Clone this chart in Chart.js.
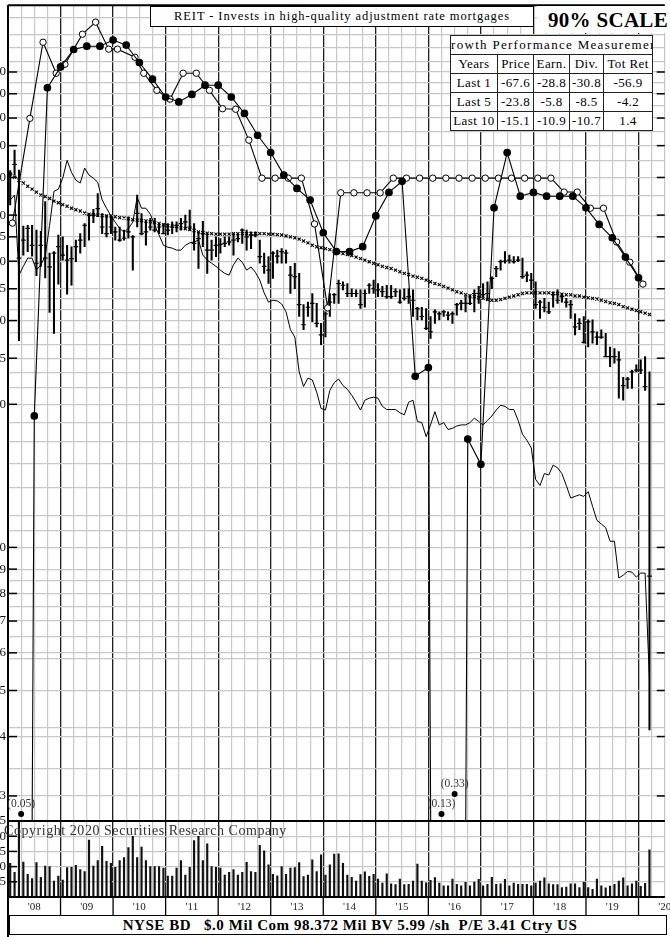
<!DOCTYPE html>
<html>
<head>
<meta charset="utf-8">
<title>REIT price chart</title>
<script src="https://cdn.jsdelivr.net/npm/chart.js@4.4.1/dist/chart.umd.min.js"></script>
<style>
  html, body { margin: 0; padding: 0; background: #fff; }
  body { position: relative; width: 670px; height: 937px; overflow: hidden;
         font-family: "Liberation Serif", "DejaVu Serif", serif; color: #000; }
  #plot { position: absolute; left: -30px; top: 0; width: 700px; height: 937px; }
  #title { position: absolute; left: 150px; top: 6px; width: 382px; height: 19px;
           border: 1.5px solid #000; background: #fff; text-align: center;
           font-size: 12.5px; line-height: 19px; letter-spacing: 0.9px; white-space: nowrap; }
  #scale { position: absolute; left: 537px; top: 6px; width: 133px; height: 27px; background: #fff;
           font-size: 21px; font-weight: bold; line-height: 28px; text-indent: 11px;
           white-space: nowrap; letter-spacing: 0.3px; }
  #perf { position: absolute; left: 450px; top: 35px; width: 202px; border-collapse: collapse;
          table-layout: fixed; background: #fff; font-size: 13px; letter-spacing: 0.4px; }
  #perf td { border: 1.5px solid #222; height: 18px; padding: 0; text-align: center;
             white-space: nowrap; overflow: hidden; line-height: 16px; }
  #perf .head { display: flex; justify-content: center; overflow: hidden; letter-spacing: 1.3px; }
  #copy { position: absolute; left: 4px; top: 823px; font-size: 14px; letter-spacing: 0.55px;
          color: #333; white-space: nowrap; }
  #footer { position: absolute; left: 9px; top: 915px; width: 632px; height: 18px; padding-left: 24px;
            border: 1.5px solid #000; background: #fff; font-weight: bold; font-size: 15px;
            text-align: center; line-height: 18px; white-space: pre; letter-spacing: 0.55px; }
</style>
</head>
<body>
<div id="plot"><canvas id="srcChart"></canvas></div>
<div id="title">REIT - Invests in high-quality adjustment rate mortgages</div>
<div id="scale">90% SCALE</div>
<table id="perf"></table>
<div id="copy">Copyright 2020 Securities Research Company</div>
<div id="footer"></div>

<script>
// ---- data (x = months since Jan 2008) ----
const yearLabels = ["'08", "'09", "'10", "'11", "'12", "'13", "'14", "'15", "'16", "'17", "'18", "'19", "'20"];

const priceLabels = [3, 4, 5, 6, 7, 8, 9, 10, 20, 25, 30, 35, 40, 45, 50, 60, 70, 80, 90, 100];
const priceGrid = [3, 3.42, 4, 4.17, 5, 5.83, 6, 6.5, 7, 7.5, 8, 8.5, 9, 10, 10.83, 11.67, 13.33, 15,
  16.67, 18.33, 20, 21.67, 23.33, 25, 26.67, 28.33, 30, 31.67, 33.33, 35, 40, 45, 50, 55, 60, 65,
  70, 75, 80, 85, 90, 95, 100, 105, 112.5, 120, 130];
const volTicks = [0, 5, 10, 15, 20, 25];

// monthly price bars
const priceHigh = [62.0, 68.5, 62.2, 47.4, 47.6, 47.6, 46.5, 46.2, 53.4, 41.6,
  41.9, 45.4, 45.0, 43.2, 42.9, 44.3, 45.7, 48.0, 50.4, 51.4,
  55.5, 50.4, 50.0, 49.6, 47.2, 47.2, 46.5, 49.6, 45.3, 55.1,
  50.4, 48.4, 49.2, 49.2, 48.0, 48.0, 48.0, 48.4, 48.4, 49.2,
  50.0, 51.2, 48.0, 46.1, 48.5, 45.7, 44.3, 45.0, 44.6, 45.0,
  45.0, 45.7, 45.7, 46.8, 46.5, 46.1, 46.1, 44.3, 41.6, 40.9,
  41.9, 42.2, 42.5, 42.2, 39.0, 39.6, 37.7, 32.4, 32.8, 34.2,
  32.6, 29.6, 31.3, 34.2, 34.2, 36.5, 36.2, 35.9, 35.0, 34.8,
  34.8, 34.8, 35.9, 36.5, 35.9, 35.4, 35.6, 35.6, 35.0, 34.8,
  35.0, 35.0, 34.8, 32.0, 32.0, 31.8, 30.6, 31.6, 31.3, 31.5,
  31.3, 31.3, 32.6, 33.1, 33.7, 34.0, 34.8, 35.4, 35.9, 36.2,
  37.1, 39.0, 40.2, 41.9, 41.2, 40.9, 40.9, 40.6, 38.0, 37.7,
  36.2, 33.1, 33.4, 32.8, 34.5, 34.8, 34.2, 33.4, 33.1, 31.0,
  30.3, 30.6, 30.1, 30.1, 28.4, 28.7, 28.2, 26.4, 26.2, 25.8,
  22.8, 22.8, 23.6, 24.2, 24.8, 25.2, 23.4];
const priceLow = [52.5, 60.7, 27.2, 41.2, 41.9, 41.0, 37.3, 39.0, 36.9, 31.2,
  28.2, 35.8, 40.2, 34.1, 35.6, 39.9, 41.6, 42.9, 44.3, 48.2,
  49.6, 45.7, 45.0, 45.7, 44.3, 44.0, 44.3, 44.7, 38.3, 47.2,
  45.4, 43.2, 46.5, 46.1, 45.7, 45.7, 45.4, 45.7, 46.1, 46.5,
  46.8, 46.5, 42.2, 38.6, 42.9, 37.7, 40.2, 40.9, 41.6, 42.9,
  43.2, 41.2, 43.9, 43.6, 42.2, 42.5, 45.0, 39.6, 37.7, 35.9,
  36.8, 39.6, 39.6, 39.6, 34.2, 35.0, 30.6, 28.7, 30.6, 29.8,
  29.1, 26.7, 27.7, 30.6, 32.6, 32.6, 34.8, 33.7, 33.7, 33.7,
  31.8, 32.0, 34.2, 34.2, 33.7, 33.7, 33.4, 33.4, 33.7, 32.6,
  33.1, 32.6, 30.6, 30.1, 30.1, 28.7, 27.5, 29.6, 30.1, 30.6,
  30.1, 29.6, 30.8, 31.6, 31.3, 32.4, 31.3, 32.6, 33.7, 33.1,
  35.0, 37.1, 38.3, 39.6, 39.6, 39.6, 39.9, 36.8, 36.2, 34.8,
  31.8, 30.3, 31.3, 31.0, 32.0, 32.6, 32.8, 32.0, 30.3, 28.0,
  28.7, 26.9, 26.4, 26.9, 26.7, 27.5, 25.2, 24.0, 24.4, 20.6,
  20.4, 21.6, 21.6, 23.4, 23.2, 21.4, 4.13];
const priceClose = [61.0, 63.9, 40.6, 44.3, 46.9, 43.2, 39.6, 43.2, 40.6, 38.9,
  41.6, 42.9, 41.2, 40.2, 40.5, 42.9, 44.3, 47.6, 50.0, 50.0,
  51.6, 47.2, 45.7, 47.2, 46.1, 44.3, 44.7, 46.1, 45.0, 50.4,
  45.7, 46.1, 47.2, 46.5, 47.2, 45.7, 46.5, 47.2, 47.6, 48.0,
  48.4, 47.2, 43.6, 44.6, 45.7, 42.2, 42.2, 43.2, 43.4, 43.6,
  43.9, 44.3, 44.6, 46.5, 45.0, 45.4, 45.4, 40.9, 39.0, 38.3,
  41.6, 41.0, 41.9, 41.6, 37.4, 37.1, 32.4, 29.4, 32.0, 32.6,
  29.6, 28.0, 31.0, 32.8, 34.0, 35.9, 35.6, 34.2, 34.2, 34.2,
  32.4, 34.2, 35.6, 35.0, 34.8, 34.5, 33.7, 33.7, 34.5, 32.8,
  33.4, 33.7, 33.1, 31.8, 30.6, 28.9, 28.4, 31.3, 31.0, 31.3,
  30.8, 31.0, 32.4, 32.6, 32.6, 32.6, 34.2, 34.2, 34.0, 34.2,
  36.8, 38.6, 39.9, 40.0, 40.2, 39.9, 40.2, 37.1, 37.4, 36.5,
  32.4, 32.8, 32.0, 31.3, 34.0, 33.1, 33.7, 32.8, 32.4, 29.1,
  29.6, 27.0, 29.8, 28.4, 27.7, 27.7, 25.2, 25.2, 25.2, 24.8,
  21.9, 22.6, 23.4, 23.6, 23.6, 21.8, 8.7];

// relative strength line
const relStrength = [53.8, 55.1, 37.4, 39.0, 40.6, 40.6, 38.3, 39.3, 41.0, 47.6,
  56.1, 56.7, 59.8, 65.2, 61.5, 59.2, 58.4, 62.8, 60.7, 59.8,
  58.6, 53.8, 51.7, 49.8, 48.3, 46.9, 46.0, 46.9, 48.3, 54.5,
  51.7, 51.7, 50.2, 47.6, 45.4, 43.2, 42.8, 42.6, 42.2, 42.2,
  43.2, 43.7, 43.9, 44.3, 41.2, 40.2, 39.6, 39.0, 38.3, 37.7,
  37.4, 39.3, 40.6, 39.8, 38.3, 38.9, 37.9, 36.5, 34.3, 32.8,
  33.1, 33.0, 32.5, 31.3, 28.7, 27.7, 23.4, 21.8, 22.7, 22.5,
  21.2, 19.6, 19.45, 21.4, 22.2, 22.6, 21.9, 21.5, 20.9, 20.2,
  19.45, 20.4, 20.6, 20.7, 20.6, 19.8, 19.5, 19.5, 19.5, 19.2,
  19.0, 20.2, 20.4, 18.4, 18.3, 17.1, 18.1, 19.3, 18.1, 18.3,
  17.7, 17.8, 18.0, 18.1, 18.1, 18.3, 18.7, 18.4, 18.1, 18.5,
  18.9, 19.45, 19.9, 19.8, 19.5, 19.5, 18.5, 17.3, 16.8, 16.2,
  13.9, 13.5, 14.3, 14.2, 14.9, 14.7, 14.3, 13.5, 12.7, 12.8,
  12.9, 12.8, 13.1, 12.2, 11.4, 11.2, 11.0, 10.3, 10.3, 8.62,
  8.74, 8.9, 8.87, 8.66, 8.83, 8.83, 5.26];

// moving average (x markers)
const movingAvg = [61.0, 60.1, 59.2, 58.4, 57.5, 56.7, 55.9, 55.1, 54.7, 54.2,
  53.5, 53.1, 52.6, 52.2, 51.7, 51.3, 51.0, 50.5, 50.2, 50.1,
  50.0, 49.9, 49.8, 49.8, 49.6, 49.4, 49.3, 49.1, 48.9, 48.8,
  48.7, 48.6, 48.4, 48.2, 48.0, 47.7, 47.5, 47.4, 47.3, 47.0,
  46.8, 46.6, 46.4, 46.1, 45.9, 45.8, 45.7, 45.6, 45.6, 45.6,
  45.6, 45.7, 45.7, 45.7, 45.7, 45.7, 45.7, 45.7, 45.7, 45.6,
  45.6, 45.5, 45.4, 45.2, 45.0, 44.8, 44.5, 44.1, 43.7, 43.2,
  42.9, 42.7, 42.5, 42.3, 42.0, 41.8, 41.5, 41.3, 41.1, 40.8,
  40.5, 40.2, 39.9, 39.6, 39.3, 39.0, 38.8, 38.6, 38.3, 38.0,
  37.7, 37.5, 37.2, 37.0, 36.8, 36.5, 36.2, 35.9, 35.7, 35.4,
  35.1, 34.8, 34.5, 34.3, 34.0, 33.8, 33.7, 33.5, 33.4, 33.2,
  33.1, 33.1, 33.2, 33.4, 33.6, 33.8, 34.0, 34.2, 34.3, 34.3,
  34.3, 34.3, 34.3, 34.3, 34.2, 34.2, 34.1, 34.0, 34.0, 33.8,
  33.8, 33.6, 33.5, 33.4, 33.3, 33.1, 32.9, 32.7, 32.6, 32.4,
  32.1, 31.9, 31.7, 31.5, 31.3, 31.1, 30.9];

// monthly volume
const volume = [11.1, 8.1, 28, 11.5, 7.5, 6.1, 11.3, 6.5, 10.2, 10.0,
  5.2, 6.9, 5.6, 9.7, 9.8, 10.4, 9.0, 8.4, 18.7, 10.2,
  12.0, 16.7, 11.7, 11.1, 9.8, 12.0, 13.0, 16.3, 20.0, 13.0,
  16.4, 12.0, 10.0, 10.0, 10.0, 9.5, 6.9, 6.9, 9.5, 12.0,
  7.2, 9.8, 18.6, 20.0, 12.0, 17.5, 10.0, 9.8, 9.5, 7.2,
  8.1, 9.0, 7.2, 8.1, 11.4, 8.4, 8.1, 17.0, 15.2, 10.6,
  7.5, 7.0, 10.0, 7.5, 9.5, 9.7, 11.3, 6.7, 7.2, 12.2,
  8.4, 13.9, 7.2, 10.6,
  14.1, 14.2, 11.1, 7.2, 6.5, 5.2, 7.4, 8.3, 6.8, 7.5,
  5.9, 4.6, 7.6, 4.3, 4.1, 5.9, 4.1, 4.2, 5.2, 10.8,
  5.2, 4.7, 5.5, 6.4, 4.6, 3.7, 3.7, 5.9, 4.2, 3.7,
  4.8, 3.7, 4.9, 5.8, 3.7, 4.2, 6.5, 4.2, 4.3, 5.8,
  3.7, 4.6, 4.2, 4.2, 4.2, 3.7, 4.6, 5.2, 6.3, 4.3,
  4.1, 4.1, 3.1, 3.3, 4.3, 4.3, 3.1, 4.9, 3.1, 2.5,
  5.9, 3.7, 3.0, 3.6, 4.2, 5.2, 6.3, 3.7, 4.3, 5.2,
  3.5, 4.5, 15.5];

// dividends (open circles)
const divMonths = [1, 5, 8, 11, 13, 17, 20, 23, 25, 29, 31, 34, 37, 40, 43, 46, 49, 52, 55, 58,
  61, 64, 67, 70, 73, 76, 79, 82, 85, 88, 91, 94, 97, 100, 103, 106, 109, 112, 115, 118,
  121, 124, 127, 130, 133, 136, 139, 142, 145];
const divValues = [48.1, 79.9, 115.5, 99.4, 103.8, 120.1, 127.3, 111.7, 111.7, 107.4,
  99.4, 91.5, 87.7, 99.4, 99.4, 91.5, 83.7, 83.5, 71.9, 59.8,
  59.8, 59.8, 59.8, 47.9, 31.9, 55.7, 55.7, 55.7, 55.7, 59.8,
  59.8, 59.8, 59.8, 59.8, 59.8, 59.8, 59.8, 59.8, 59.8, 59.8,
  59.8, 59.8, 55.9, 55.9, 51.7, 51.7, 43.9, 39.8, 35.8];

// earnings (filled circles); negatives are printed at the floor
const epsMonths = [3, 6, 9, 12, 15, 18, 21, 24, 27, 30, 33, 36, 39, 42, 45, 48, 51, 54, 57, 60,
  63, 66, 69, 72, 75, 78, 81, 84, 87, 90, 93, 96, 99, 102, 105, 108, 111, 114, 117, 120,
  123, 126, 129, 132, 135, 138, 141, 144];
const epsValues = [-0.05, 18.9, 92.6, 102.5, 111.5, 113.3, 113.3, 116.7, 113.9, 104.7,
  96.6, 88.6, 86.5, 89.7, 93.8, 93.8, 88.6, 81.8, 73.6, 67.7,
  60.7, 56.9, 53.8, 45.9, 41.9, 41.9, 42.9, 49.8, 55.8, 58.9,
  22.9, 23.9, -0.13, -0.33, 16.9, 14.95, 51.8, 67.7, 54.8, 55.8,
  54.8, 54.8, 54.8, 51.8, 47.8, 44.8, 40.8, 36.9];

const perfHeads = ['Years', 'Price', 'Earn.', 'Div.', 'Tot Ret'];
const perfRows = [
  ['Last 1', -67.6, -28.8, -30.8, -56.9],
  ['Last 5', -23.8, -5.8, -8.5, -4.2],
  ['Last 10', -15.1, -10.9, -10.7, 1.4]
];
const footerText = 'NYSE BD   $.0 Mil Com 98.372 Mil BV 5.99 /sh  P/E 3.41 Ctry US';

// ---- page text ----
const perf = document.getElementById('perf');
perf.innerHTML = '<colgroup><col style="width:47px"><col style="width:36px"><col style="width:36px"><col style="width:34px"><col style="width:49px"></colgroup>' +
  '<tr><td colspan="5"><div class="head"><span>Growth Performance Measurement</span></div></td></tr>' +
  '<tr>' + perfHeads.map(h => '<td>' + h + '</td>').join('') + '</tr>' +
  perfRows.map(r => '<tr>' + r.map((c, j) => '<td>' + (j === 0 ? c : c.toFixed(1)) + '</td>').join('') + '</tr>').join('');
document.getElementById('footer').textContent = footerText;

// ---- chart ----
const serif = '"Liberation Serif", "DejaVu Serif", serif';
const OFF_SCALE = 1e-4;           // negative quarters run off the bottom of the log scale
const quarterTicks = [];
for (let m = 0; m <= 150; m += 3) quarterTicks.push(m);
const mid = i => i + 0.5;

const panelClip = {
  id: 'panelClip',
  beforeDatasetDraw(chart, args) {
    if (args.meta.yAxisID !== 'y') return;
    const { ctx, chartArea: a, scales: { y } } = chart;
    ctx.save();
    ctx.beginPath();
    ctx.rect(a.left, y.top, a.right - a.left, y.bottom - y.top);
    ctx.clip();
  },
  afterDatasetDraw(chart, args) {
    if (args.meta.yAxisID === 'y') chart.ctx.restore();
  }
};

const srcFrame = {
  id: 'srcFrame',
  afterDatasetsDraw(chart) {
    const { ctx, chartArea: a, scales: { x, y, yVol } } = chart;
    const seg = (x1, y1, x2, y2) => { ctx.beginPath(); ctx.moveTo(x1, y1); ctx.lineTo(x2, y2); ctx.stroke(); };
    ctx.save();
    ctx.strokeStyle = '#000';
    ctx.lineWidth = 1.5;
    priceLabels.forEach(v => {
      const py = y.getPixelForValue(v);
      seg(a.left, py, a.left + 9, py);
      seg(a.right - 8, py, a.right, py);
    });
    volTicks.slice(1).forEach(v => {
      const py = yVol.getPixelForValue(v);
      seg(a.left, py, a.left + 9, py);
    });
    ctx.lineWidth = 2;
    seg(a.left, a.top, a.right, a.top);
    seg(a.left, a.top, a.left, a.bottom + 40);
    seg(a.left, y.bottom, a.right, y.bottom);
    seg(a.left, a.bottom, a.right, a.bottom);
    ctx.lineWidth = 1.3;
    for (let m = 12; m <= 150; m += 12) {
      const px = x.getPixelForValue(m);
      seg(px, a.bottom, px, a.bottom + 18);
    }
    // negative earnings markers
    ctx.font = '11.5px ' + serif;
    ctx.textAlign = 'center';
    ctx.textBaseline = 'bottom';
    epsValues.forEach((v, k) => {
      if (v >= 0) return;
      const level = k > 0 && epsValues[k - 1] < 0 ? 1 : 0;
      const px = x.getPixelForValue(epsMonths[k]);
      const py = y.bottom - 7 - level * 20;
      ctx.fillStyle = '#000';
      ctx.beginPath();
      ctx.arc(px, py, 3, 0, Math.PI * 2);
      ctx.fill();
      ctx.fillStyle = '#333';
      ctx.fillText('(' + Math.abs(v).toFixed(2) + ')', px, py - 4);
    });
    ctx.restore();
  }
};

new Chart(document.getElementById('srcChart'), {
  type: 'line',
  data: {
    datasets: [
      {
        label: 'Earnings', yAxisID: 'y', order: 1,
        data: epsMonths.map((m, k) => ({ x: m, y: epsValues[k] > 0 ? epsValues[k] : OFF_SCALE })),
        borderColor: '#000', borderWidth: 1.1,
        pointRadius: epsValues.map(v => v > 0 ? 3.3 : 0),
        pointBackgroundColor: '#000', pointBorderColor: '#000'
      },
      {
        label: 'Dividends', yAxisID: 'y', order: 2,
        data: divMonths.map((m, k) => ({ x: m, y: divValues[k] })),
        borderColor: '#000', borderWidth: 1.1,
        pointRadius: 3.2, pointBackgroundColor: '#fff', pointBorderColor: '#000', pointBorderWidth: 1
      },
      {
        label: 'Close', yAxisID: 'y', order: 3, showLine: false,
        data: priceClose.map((c, i) => ({ x: mid(i), y: c })),
        pointStyle: 'line', pointRadius: 2.3, pointBorderColor: '#000', pointBorderWidth: 1.2
      },
      {
        label: 'Range', type: 'bar', yAxisID: 'y', order: 4, grouped: false,
        data: priceHigh.map((h, i) => ({ x: mid(i), y: [priceLow[i], h] })),
        backgroundColor: '#000', barThickness: 1.4
      },
      {
        label: 'Moving average', yAxisID: 'y', order: 5, showLine: false,
        data: movingAvg.map((v, i) => ({ x: mid(i), y: v })),
        pointStyle: 'crossRot', pointRadius: 2.2, pointBorderColor: '#000', pointBorderWidth: 1.1
      },
      {
        label: 'Relative strength', yAxisID: 'y', order: 6,
        data: relStrength.map((v, i) => ({ x: mid(i), y: v })),
        borderColor: '#000', borderWidth: 1, pointRadius: 0
      },
      {
        label: 'Volume', type: 'bar', yAxisID: 'yVol', order: 7, grouped: false,
        data: volume.map((v, i) => ({ x: mid(i), y: v })),
        backgroundColor: '#111', barThickness: 1.5
      }
    ]
  },
  options: {
    responsive: true,
    maintainAspectRatio: false,
    animation: false,
    events: [],
    layout: { padding: { top: 5, bottom: 24, left: 0, right: 0 } },
    plugins: { legend: { display: false }, tooltip: { enabled: false } },
    scales: {
      x: {
        type: 'linear', min: 0, max: 150, offset: false, bounds: 'data',
        afterBuildTicks: s => { s.ticks = quarterTicks.map(v => ({ value: v })); },
        afterFit: s => { s.height = 16; s.paddingLeft = 0; s.paddingRight = 0; },
        grid: {
          offset: false, drawTicks: false,
          color: c => c.tick.value % 12 === 0 ? '#1e1e1e' : '#c8c8c8',
          lineWidth: c => c.tick.value % 12 === 0 ? 1.3 : 1.2
        },
        border: { display: false },
        ticks: {
          autoSkip: false, maxRotation: 0, padding: 4, color: '#222',
          font: { family: serif, size: 11 },
          callback: v => v % 12 === 6 ? yearLabels[(v - 6) / 12] : ''
        }
      },
      yVol: {
        type: 'linear', position: 'left', stack: 'panels', stackWeight: 76,
        min: 0, max: 25, bounds: 'data',
        afterBuildTicks: s => { s.ticks = volTicks.map(v => ({ value: v })); },
        afterFit: s => { s.width = 38; s.paddingTop = 0; s.paddingBottom = 0; },
        grid: {
          drawTicks: false,
          color: c => (c.tick.value === 0 || c.tick.value === 25) ? '#000' : '#c8c8c8',
          lineWidth: 1.2
        },
        border: { display: false },
        ticks: {
          autoSkip: false, padding: 2, color: '#111', font: { family: serif, size: 13 },
          callback: v => v > 0 ? String(v) : ''
        }
      },
      y: {
        type: 'logarithmic', position: 'left', stack: 'panels', stackWeight: 816,
        min: 2.657, max: 138.2, bounds: 'data',
        afterBuildTicks: s => { s.ticks = priceGrid.map(v => ({ value: v })); },
        afterFit: s => { s.width = 38; s.paddingTop = 0; s.paddingBottom = 0; },
        grid: { drawTicks: false, color: '#c8c8c8', lineWidth: 1.2 },
        border: { display: false },
        ticks: {
          autoSkip: false, padding: 2, color: '#111', font: { family: serif, size: 13 },
          callback: v => priceLabels.includes(v) ? String(v) : ''
        }
      }
    }
  },
  plugins: [panelClip, srcFrame]
});
</script>
</body>
</html>
